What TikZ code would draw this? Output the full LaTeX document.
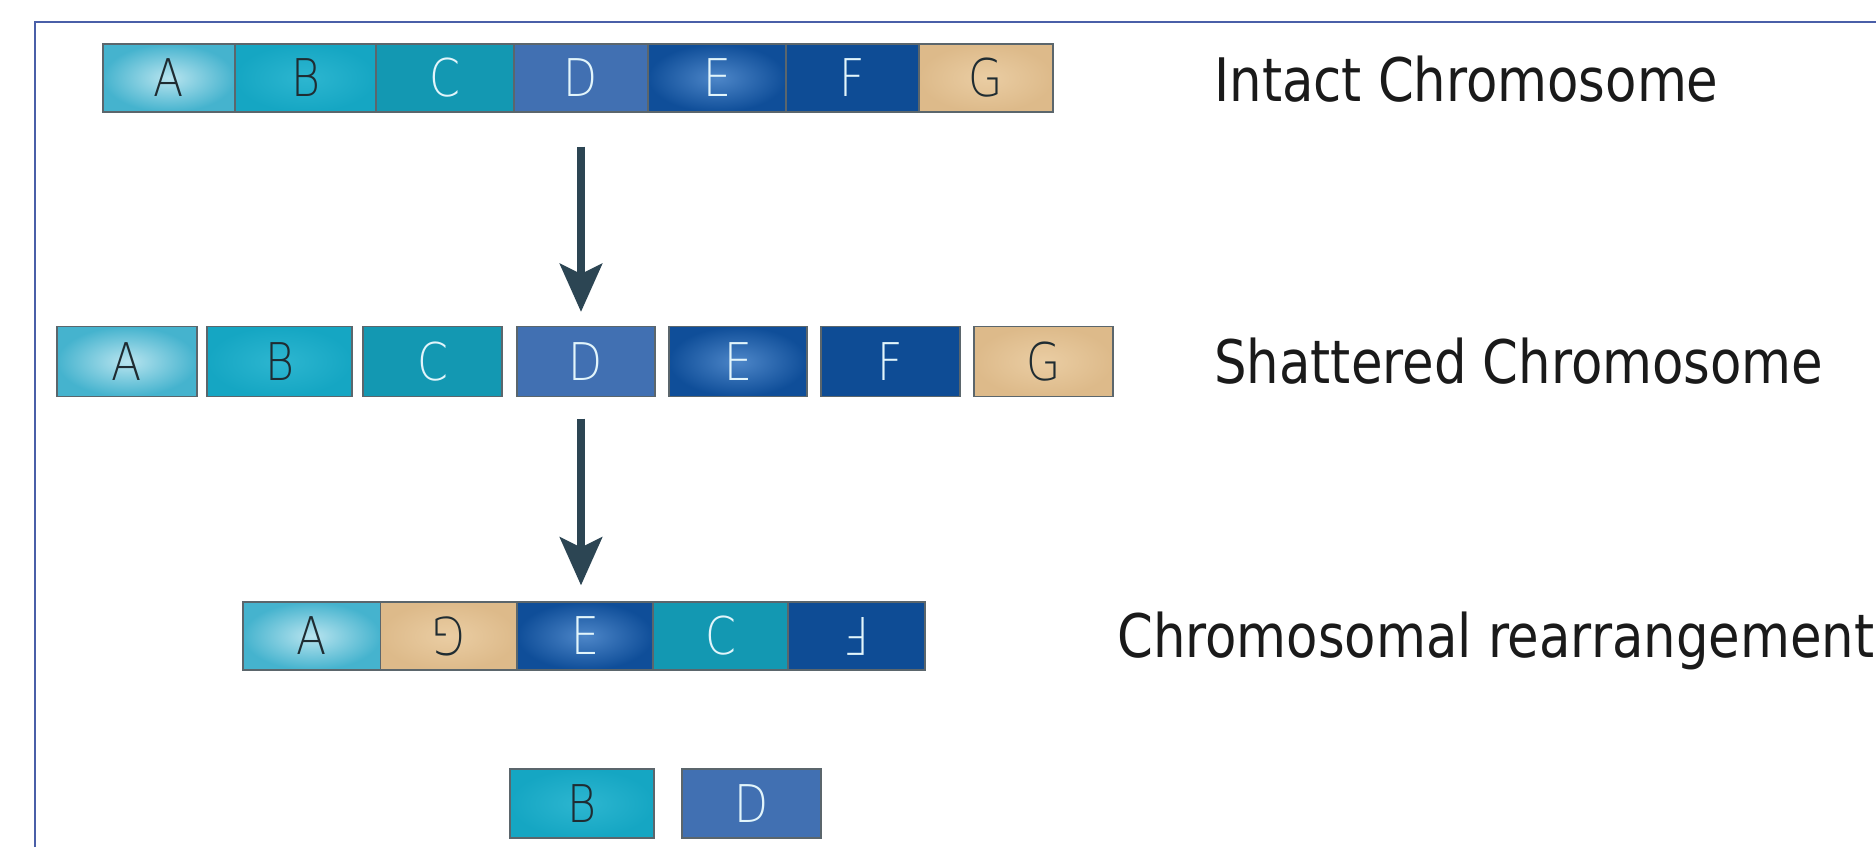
\documentclass[tikz,border=0pt]{standalone}
\usepackage{fontspec}
\usepackage{graphicx}
\setmainfont{DejaVu Sans Condensed}
\newfontfamily\lett{DejaVu Sans ExtraLight}
\usetikzlibrary{arrows.meta}
\definecolor{cA}{HTML}{45B3CE}
\definecolor{cAin}{HTML}{B8E4EF}
\definecolor{cB}{HTML}{15A6C3}
\definecolor{cBin}{HTML}{2DB6D0}
\definecolor{cC}{HTML}{1398B2}
\definecolor{cD}{HTML}{4170B2}
\definecolor{cE}{HTML}{0F4E99}
\definecolor{cEin}{HTML}{4D86C8}
\definecolor{cF}{HTML}{0E4C95}
\definecolor{cG}{HTML}{DDBA8A}
\definecolor{cGin}{HTML}{EACDA3}
\definecolor{segline}{HTML}{5B666C}
\definecolor{darktext}{HTML}{1F2C32}
\definecolor{lighttext}{HTML}{E2F5FB}
\definecolor{arrowcol}{HTML}{2C4553}
\definecolor{framecol}{HTML}{4A5FA8}
\definecolor{labelcol}{HTML}{1A1A1A}
\newcommand{\lt}[1]{\scalebox{0.85}[1]{#1}}
\newcommand{\lbl}[1]{\scalebox{0.95}[1]{#1}}
\begin{document}
\begin{tikzpicture}[x=0.5pt,y=-0.5pt,
  seg/.style={draw=segline, line width=0.6pt, inner sep=0pt, minimum height=34pt,
    font=\lett\fontsize{26}{26}\selectfont},
  segA/.style={seg, shading=radial, inner color=cAin, outer color=cA, text=darktext},
  segB/.style={seg, shading=radial, inner color=cBin, outer color=cB, text=darktext},
  segC/.style={seg, fill=cC, text=lighttext},
  segD/.style={seg, fill=cD, text=lighttext},
  segE/.style={seg, shading=radial, inner color=cEin, outer color=cE, text=lighttext},
  segF/.style={seg, fill=cF, text=lighttext},
  segG/.style={seg, shading=radial, inner color=cGin, outer color=cG, text=darktext},
  lab/.style={anchor=base west, inner sep=0pt, text=labelcol, font=\fontsize{30}{36}\selectfont},
  bigarrow/.style={draw=arrowcol, line width=4pt, -{Stealth[length=24pt,width=21pt,inset=5pt]}}
]
\useasboundingbox (0,0) rectangle (1876,847);
\fill[white] (0,0) rectangle (1876,847);
\draw[framecol, line width=1pt] (35,847) -- (35,22) -- (1876,22);

% Row 1: intact
\node[segA, minimum width=66pt]   (r1A) at (169,78)   {\lt{A}};
\node[segB, minimum width=70.5pt] (r1B) at (305.5,78) {\lt{B}};
\node[segC, minimum width=69pt]   (r1C) at (445,78)   {\lt{C}};
\node[segD, minimum width=67pt]   (r1D) at (581,78)   {\lt{D}};
\node[segE, minimum width=69pt]   (r1E) at (717,78)   {\lt{E}};
\node[segF, minimum width=66.5pt] (r1F) at (852.5,78) {\lt{F}};
\node[segG, minimum width=67pt]   (r1G) at (986,78)   {\lt{G}};

% Row 2: shattered
\node[segA, minimum width=70pt, minimum height=35pt]   (r2A) at (127,361.5)    {\lt{A}};
\node[segB, minimum width=72.5pt, minimum height=35pt] (r2B) at (279.5,361.5)  {\lt{B}};
\node[segC, minimum width=69.5pt, minimum height=35pt] (r2C) at (432.5,361.5)  {\lt{C}};
\node[segD, minimum width=69pt, minimum height=35pt]   (r2D) at (586,361.5)    {\lt{D}};
\node[segE, minimum width=69pt, minimum height=35pt]   (r2E) at (738,361.5)    {\lt{E}};
\node[segF, minimum width=69.5pt, minimum height=35pt] (r2F) at (890.5,361.5)  {\lt{F}};
\node[segG, minimum width=69.5pt, minimum height=35pt] (r2G) at (1043.5,361.5) {\lt{G}};

% Row 3: rearranged
\node[segA, minimum width=68.75pt] (r3A) at (311.75,636) {\lt{A}};
\node[segG, minimum width=68.25pt] (r3G) at (448.75,636) {\rotatebox[origin=c]{180}{\lt{G}}};
\node[segE, minimum width=68pt]    (r3E) at (585,636)    {\lt{E}};
\node[segC, minimum width=67.5pt]  (r3C) at (720.5,636)  {\lt{C}};
\node[segF, minimum width=68.5pt]  (r3F) at (856.5,636)  {\rotatebox[origin=c]{180}{\lt{F}}};

% Row 4: lost fragments
\node[segB, minimum width=72pt, minimum height=34.5pt]   (r4B) at (582,803.5)   {\lt{B}};
\node[segD, minimum width=69.5pt, minimum height=34.5pt] (r4D) at (751.5,803.5) {\lt{D}};

% Arrows
\draw[bigarrow] ([yshift=-17pt]r1D.south) -- ([yshift=7pt]r1D.south |- r2D.north);
\draw[bigarrow] ([yshift=-10.75pt]r1D.south |- r2D.south) -- ([yshift=8pt]r1D.south |- r3E.north);

% Labels
\node[lab] (l1) at (1214,101) {\lbl{Intact Chromosome}};
\node[lab] (l2) at (1214,383) {\lbl{Shattered Chromosome}};
\node[lab] (l3) at (1117,657) {\lbl{Chromosomal rearrangement}};
\end{tikzpicture}
\end{document}
